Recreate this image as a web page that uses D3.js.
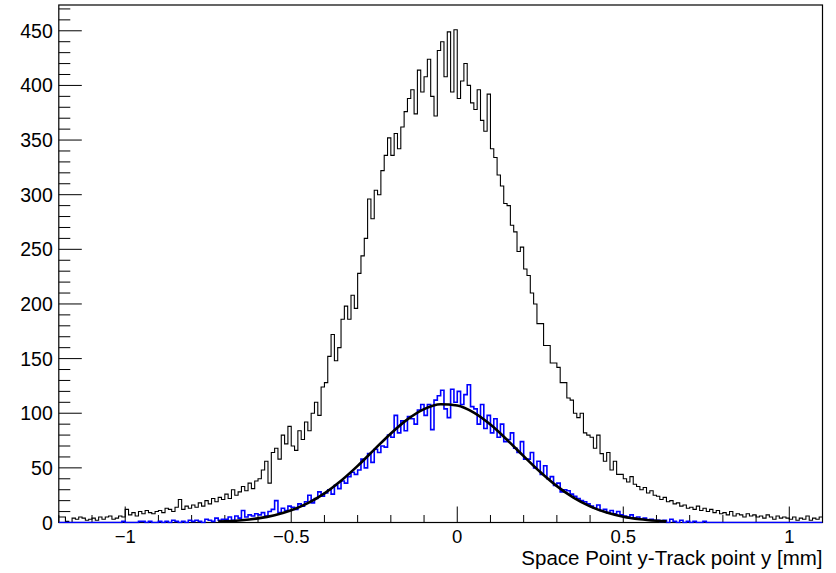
<!DOCTYPE html>
<html>
<head>
<meta charset="utf-8">
<script src="https://cdn.jsdelivr.net/npm/d3@7"></script>
<style>
  html, body { margin: 0; padding: 0; background: #fff; }
  svg { display: block; }
  text { font-family: "Liberation Sans", Arial, Helvetica, sans-serif; fill: #000; }
</style>
</head>
<body>
<svg id="chart" width="836" height="573"></svg>
<script>
// ---- data ----
const binStart = -1.2;      // low edge of first bin
const binWidth = 0.01;      // bin width

// black histogram: all space points (230 bins, -1.2 .. 1.1)
const allCounts = [
  5,5,1,0,4,3,5,4,2,3,
  4,2,5,3,5,6,3,4,6,5,
  12,7,9,6,10,8,11,9,8,10,
  11,9,13,12,10,14,21,12,15,13,
  16,14,18,15,20,17,22,19,23,21,
  26,22,30,25,28,33,29,36,31,38,
  40,48,56,36,64,68,58,80,72,88,
  70,66,84,76,92,84,100,110,98,124,
  128,152,172,148,160,186,198,186,208,196,
  228,244,260,296,278,304,300,322,336,352,
  336,356,342,362,376,388,396,374,414,394,
  408,424,390,372,432,440,408,449,394,451,
  388,404,420,400,384,378,396,368,358,392,
  342,334,318,308,292,290,272,266,248,252,
  232,226,210,200,182,182,162,162,146,146,
  142,128,128,114,112,100,96,100,82,80,
  78,68,80,63,56,64,48,56,44,44,
  40,37,42,35,33,30,32,27,29,25,
  24,21,23,19,20,17,18,15,16,13,
  14,12,15,11,13,10,12,9,11,8,
  9,7,10,6,8,7,5,8,6,7,
  5,6,4,7,5,3,6,4,5,4,
  3,5,2,4,3,6,2,4,3,5
];

// blue histogram: selected space points (230 bins, -1.2 .. 1.1)
const selCounts = [
  0,0,0,0,0,0,0,0,0,0,
  0,0,0,0,0,0,0,0,0,1,
  0,0,0,0,1,1,0,1,0,0,
  1,0,1,0,2,1,0,1,0,2,
  1,2,1,0,3,2,1,4,2,3,
  3,5,2,6,4,11,5,7,6,8,
  7,9,6,10,12,20,9,13,11,15,
  14,12,17,15,19,25,18,22,28,24,
  27,30,26,34,31,38,36,42,46,44,
  48,58,50,63,55,67,64,70,69,80,
  78,98,82,93,84,97,95,90,103,108,
  98,108,85,112,116,121,104,96,122,110,
  120,108,117,126,106,104,90,108,86,98,
  82,95,78,90,74,76,82,68,64,74,
  58,58,64,50,56,44,52,40,42,34,
  36,28,30,29,26,24,22,20,19,17,
  15,13,16,11,12,9,11,8,10,7,
  6,5,7,4,5,3,4,2,3,2,
  2,1,2,0,3,1,0,2,0,1,
  0,1,0,0,1,0,0,0,0,0,
  0,0,0,0,0,0,0,0,0,0,
  0,0,0,0,0,0,0,0,0,0,
  0,0,0,0,0,0,0,0,0,0
];

const fitX = [-0.72,-0.70,-0.65,-0.60,-0.55,-0.50,-0.45,-0.40,-0.35,-0.30,-0.25,-0.20,-0.15,-0.10,-0.05,
              0.00,0.05,0.10,0.15,0.20,0.25,0.30,0.35,0.40,0.45,0.50,0.55,0.60,0.63];
const fitY = [0.8,1.0,2.0,3.8,6.7,11.2,17.7,26.7,38.2,51.8,66.7,81.5,94.4,103.8,108.2,
              107.1,100.6,89.6,75.7,60.7,46.2,33.3,22.8,14.8,9.1,5.3,3.0,1.6,1.0];

const xTickValues = [-1, -0.5, 0, 0.5, 1];
const xTickLabels = ["\u22121", "\u22120.5", "0", "0.5", "1"];
const yTickValues = [0, 50, 100, 150, 200, 250, 300, 350, 400, 450];
const yTickLabels = ["0", "50", "100", "150", "200", "250", "300", "350", "400", "450"];
const xTitle = "Space Point y-Track point y [mm]";

// ---- layout ----
const L = 58.8, R = 822.5, T = 5, B = 522.5;
const xDomain = [-1.2, 1.1];
const yDomain = [0, 473.6];

const svg = d3.select("#chart");
const x = d3.scaleLinear().domain(xDomain).range([L, R]);
const y = d3.scaleLinear().domain(yDomain).range([B, T]);

svg.append("defs").append("clipPath").attr("id", "clip")
  .append("rect").attr("x", L).attr("y", T - 1).attr("width", R - L).attr("height", B - T + 2);

// frame
svg.append("rect")
  .attr("x", L).attr("y", T).attr("width", R - L).attr("height", B - T)
  .attr("fill", "none").attr("stroke", "#000").attr("stroke-width", 1.2);

// y axis ticks (major 50, minor 10) pointing inward
const yMinor = d3.range(0, 471, 10);
svg.append("g").selectAll("line").data(yMinor).join("line")
  .attr("x1", L).attr("x2", d => L + (d % 50 === 0 ? 23 : 11.5))
  .attr("y1", d => y(d)).attr("y2", d => y(d))
  .attr("stroke", "#000").attr("stroke-width", 1);

svg.append("g").selectAll("text").data(yTickValues).join("text")
  .attr("x", L - 6).attr("y", d => y(d)).attr("dy", "0.36em")
  .attr("text-anchor", "end").attr("font-size", 19.5)
  .text((d, i) => yTickLabels[i]);

// x axis ticks (major 0.5, minor 0.1)
const xMinor = d3.range(-12, 12).map(k => k / 10).filter(v => v >= xDomain[0] - 1e-9 && v <= xDomain[1] + 1e-9);
svg.append("g").selectAll("line").data(xMinor).join("line")
  .attr("x1", d => x(d)).attr("x2", d => x(d))
  .attr("y1", B).attr("y2", d => B - (Math.abs(Math.round(d * 10)) % 5 === 0 ? 16 : 7.5))
  .attr("stroke", "#000").attr("stroke-width", 1);

svg.append("g").selectAll("text").data(xTickValues).join("text")
  .attr("x", d => x(d)).attr("y", 543)
  .attr("text-anchor", "middle").attr("font-size", 18.5)
  .text((d, i) => xTickLabels[i]);

svg.append("text")
  .attr("x", R).attr("y", 565).attr("text-anchor", "end").attr("font-size", 20.5)
  .text(xTitle);

// histograms as step outlines
function stepPoints(counts) {
  const pts = counts.map((c, i) => [binStart + i * binWidth, c]);
  pts.push([binStart + counts.length * binWidth, counts[counts.length - 1]]);
  return pts;
}
const stepLine = d3.line().x(d => x(d[0])).y(d => y(d[1])).curve(d3.curveStepAfter);

const plot = svg.append("g").attr("clip-path", "url(#clip)");
plot.append("path").datum(stepPoints(allCounts))
  .attr("d", stepLine).attr("fill", "none").attr("stroke", "#000").attr("stroke-width", 1.1);
plot.append("path").datum(stepPoints(selCounts))
  .attr("d", stepLine).attr("fill", "none").attr("stroke", "#0000ff").attr("stroke-width", 1.6);

// fit curve
const fitLine = d3.line().x((d, i) => x(fitX[i])).y(d => y(d)).curve(d3.curveMonotoneX);
plot.append("path").datum(fitY)
  .attr("d", fitLine).attr("fill", "none").attr("stroke", "#000").attr("stroke-width", 2.6)
  .attr("stroke-linejoin", "round");
</script>
</body>
</html>
